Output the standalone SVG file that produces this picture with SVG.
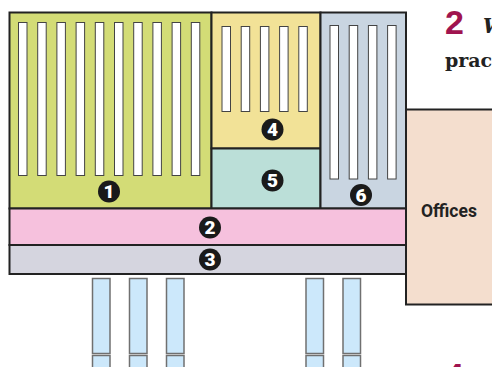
<svg xmlns="http://www.w3.org/2000/svg" width="492" height="367" viewBox="0 0 492 367">
<style>
.z{stroke:#222;stroke-width:2}
.s{fill:#fff;stroke:#444;stroke-width:1}
.b{fill:#cce8fb;stroke:#707070;stroke-width:1.5}
.c{fill:#1a1a1a}
.n{fill:#fff;font:900 19px Roboto,sans-serif;text-anchor:middle}
.h{fill:#a0144f;font:700 34px "Liberation Sans",sans-serif}
.t{fill:#222;font:700 19px "DejaVu Serif",serif}
</style>
<rect width="492" height="367" fill="#fff"/>
<g id="offices"><rect class="z" x="406" y="109.500" width="100" height="195" fill="#f4dece"/><text x="421" y="217" fill="#222" style="font:700 17.500px Roboto,sans-serif">Offices</text></g>
<g id="zone1"><rect class="z" x="9.500" y="12.500" width="202" height="196" fill="#d3dc76"/>
<g id="slots1"><rect class="s" x="18.500" y="22.500" width="8.500" height="153"/><rect class="s" x="37.700" y="22.500" width="8.500" height="153"/><rect class="s" x="56.900" y="22.500" width="8.500" height="153"/><rect class="s" x="76.100" y="22.500" width="8.500" height="153"/><rect class="s" x="95.300" y="22.500" width="8.500" height="153"/><rect class="s" x="114.500" y="22.500" width="8.500" height="153"/><rect class="s" x="133.700" y="22.500" width="8.500" height="153"/><rect class="s" x="152.900" y="22.500" width="8.500" height="153"/><rect class="s" x="172.100" y="22.500" width="8.500" height="153"/><rect class="s" x="191.300" y="22.500" width="8.500" height="153"/></g>
<circle class="c" cx="109" cy="191.500" r="11"/><text class="n" x="109" y="198">1</text></g>
<g id="zone4"><rect class="z" x="211.500" y="12.500" width="109" height="136" fill="#f2e297"/>
<rect class="s" x="222" y="26.500" width="8.500" height="85"/><rect class="s" x="241.200" y="26.500" width="8.500" height="85"/><rect class="s" x="260.400" y="26.500" width="8.500" height="85"/><rect class="s" x="279.600" y="26.500" width="8.500" height="85"/><rect class="s" x="298.800" y="26.500" width="8.500" height="85"/>
<circle class="c" cx="272.500" cy="129.500" r="11"/><text class="n" x="272.500" y="136">4</text></g>
<g id="zone5"><rect class="z" x="211.500" y="148.500" width="109" height="60" fill="#bbdfd8"/><circle class="c" cx="272.500" cy="180.500" r="11"/><text class="n" x="272.500" y="187">5</text></g>
<g id="zone6"><rect class="z" x="320.500" y="12.500" width="85.500" height="196" fill="#c9d5e1"/>
<rect class="s" x="330" y="25.500" width="8.500" height="153.500"/><rect class="s" x="349.200" y="25.500" width="8.500" height="153.500"/><rect class="s" x="368.400" y="25.500" width="8.500" height="153.500"/><rect class="s" x="387.600" y="25.500" width="8.500" height="153.500"/>
<circle class="c" cx="361" cy="195" r="11"/><text class="n" x="361" y="201.500">6</text></g>
<g id="zone2"><rect class="z" x="9.500" y="208.500" width="396.500" height="36.500" fill="#f6c1dd"/><circle class="c" cx="210" cy="227.500" r="11"/><text class="n" x="210" y="234">2</text></g>
<g id="zone3"><rect class="z" x="9.500" y="245" width="396.500" height="29" fill="#d5d5df"/><circle class="c" cx="210" cy="259.500" r="11"/><text class="n" x="210" y="266">3</text></g>
<g id="strips">
<rect class="b" x="92.500" y="278.500" width="17.500" height="75"/><rect class="b" x="92.500" y="355.500" width="17.500" height="20"/>
<rect class="b" x="129.500" y="278.500" width="17.500" height="75"/><rect class="b" x="129.500" y="355.500" width="17.500" height="20"/>
<rect class="b" x="166.500" y="278.500" width="17.500" height="75"/><rect class="b" x="166.500" y="355.500" width="17.500" height="20"/>
<rect class="b" x="306" y="278.500" width="17.500" height="75"/><rect class="b" x="306" y="355.500" width="17.500" height="20"/>
<rect class="b" x="343" y="278.500" width="17.500" height="75"/><rect class="b" x="343" y="355.500" width="17.500" height="20"/>
</g>
<text class="h" x="445" y="34">2</text>
<text x="483" y="33" fill="#222" style="font:italic 700 20px 'DejaVu Serif',serif">W</text>
<text class="t" x="445" y="66.500">prac</text>
<text class="h" x="445" y="387">4</text>
</svg>
